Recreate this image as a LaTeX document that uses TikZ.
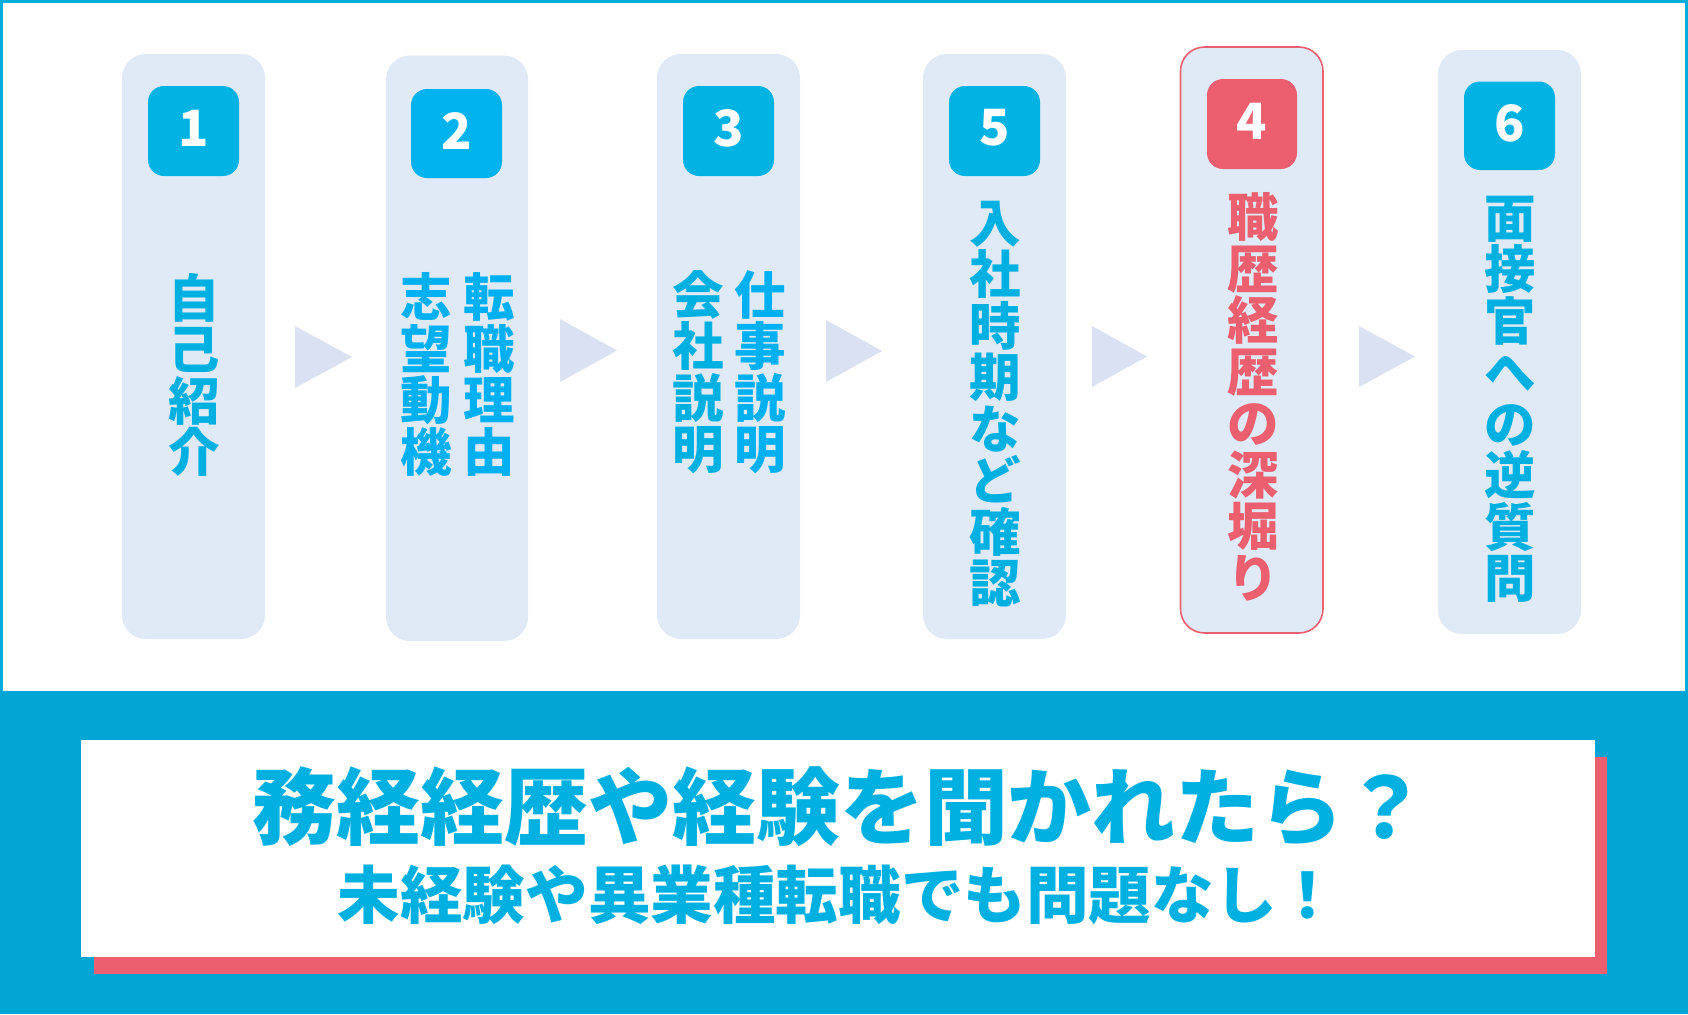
\documentclass[tikz,border=0pt]{standalone}
\usepackage{fontspec}
\newfontfamily\jpb{Noto Sans CJK JP}[UprightFont={* Black}]
\definecolor{bandc}{HTML}{03A5D4}
\definecolor{framec}{HTML}{00AEDC}
\definecolor{cardc}{HTML}{DFEAF6}
\definecolor{badgec}{HTML}{00B3E3}
\definecolor{badgeb}{HTML}{00B2EE}
\definecolor{txtc}{HTML}{00B0E0}
\definecolor{txtb}{HTML}{00B0F0}
\definecolor{redc}{HTML}{EC5F6E}
\definecolor{arrowc}{HTML}{D9E1F2}
\tikzset{
  card/.style={fill=cardc, rounded corners=12pt},
  badge/.style={rounded corners=8pt},
  digit/.style={text=white, inner sep=0pt, font=\jpb\fontsize{25pt}{25pt}\selectfont},
  vtext/.style={align=center, inner sep=0pt, font=\jpb\fontsize{25.75pt}{25.75pt}\selectfont},
  tri/.style={fill=arrowc},
}
\begin{document}
\begin{tikzpicture}[x=0.5pt,y=-0.5pt]
\useasboundingbox (0,0) rectangle (1688,1014);
% background
\fill[framec] (0,0) rectangle (1688,691);
\fill[white] (2.5,2.5) rectangle (1685,691);
\fill[bandc] (0,691) rectangle (1688,1014);
% cards
\fill[card] (122,54) rectangle (265,639);
\fill[card] (386,55.5) rectangle (528,641);
\fill[card] (657,54) rectangle (800,639);
\fill[card] (923,54) rectangle (1066,639);
\filldraw[card, draw=redc, line width=0.8pt] (1180.5,47) rectangle (1323,633);
\fill[card] (1438,50) rectangle (1581,634);
% badges
\fill[badge, badgec] (148,86) rectangle (239,176);
\fill[badge, badgeb] (411,89) rectangle (502,178);
\fill[badge, badgec] (683,86) rectangle (774,176);
\fill[badge, badgec] (949,86) rectangle (1040,176);
\fill[badge, redc] (1207,79) rectangle (1297,169);
\fill[badge, badgec] (1464,81.5) rectangle (1555,170);
\node[digit] (d1) at (193.5,128) {1};
\node[digit] (d2) at (456.5,130.5) {2};
\node[digit] (d3) at (728.5,128) {3};
\node[digit] (d5) at (994.5,128) {5};
\node[digit] (d4) at (1252,121) {4};
\node[digit] (d6) at (1509.5,123) {6};
% texts
\node[vtext, text=txtc] (t1) at (194,375) {自\\己\\紹\\介};
\node[vtext, text=txtb] (t2a) at (489,374.5) {転\\職\\理\\由};
\node[vtext, text=txtb] (t2b) at (426.5,374.5) {志\\望\\動\\機};
\node[vtext, text=txtb] (t3a) at (760.5,372) {仕\\事\\説\\明};
\node[vtext, text=txtc] (t3b) at (698,372) {会\\社\\説\\明};
\node[vtext, text=txtc] (t5) at (995.5,404) {入\\社\\時\\期\\な\\ど\\確\\認};
\node[vtext, text=redc] (t4) at (1253,397) {職\\歴\\経\\歴\\の\\深\\堀\\り};
\node[vtext, text=txtc] (t6) at (1510.5,399.5) {面\\接\\官\\へ\\の\\逆\\質\\問};
% arrows
\fill[tri] (295,326) -- (352,357) -- (295,388) -- cycle;
\fill[tri] (560,319) -- (617,350.5) -- (560,382) -- cycle;
\fill[tri] (826,320) -- (882,351) -- (826,382) -- cycle;
\fill[tri] (1092,326) -- (1147,356.5) -- (1092,387) -- cycle;
\fill[tri] (1359,326) -- (1415,356.5) -- (1359,387) -- cycle;
% bottom banner
\fill[redc] (94,757) rectangle (1607,974);
\fill[white] (81,740) rectangle (1595,957);
\node[inner sep=0pt, text=txtc, font=\jpb\fontsize{42pt}{42pt}\selectfont] (h1) at (840,807) {務経経歴や経験を聞かれたら？};
\node[inner sep=0pt, text=txtc, font=\jpb\fontsize{31.3pt}{31.3pt}\selectfont] (h2) at (838.5,895) {未経験や異業種転職でも問題なし！};
\end{tikzpicture}
\end{document}
